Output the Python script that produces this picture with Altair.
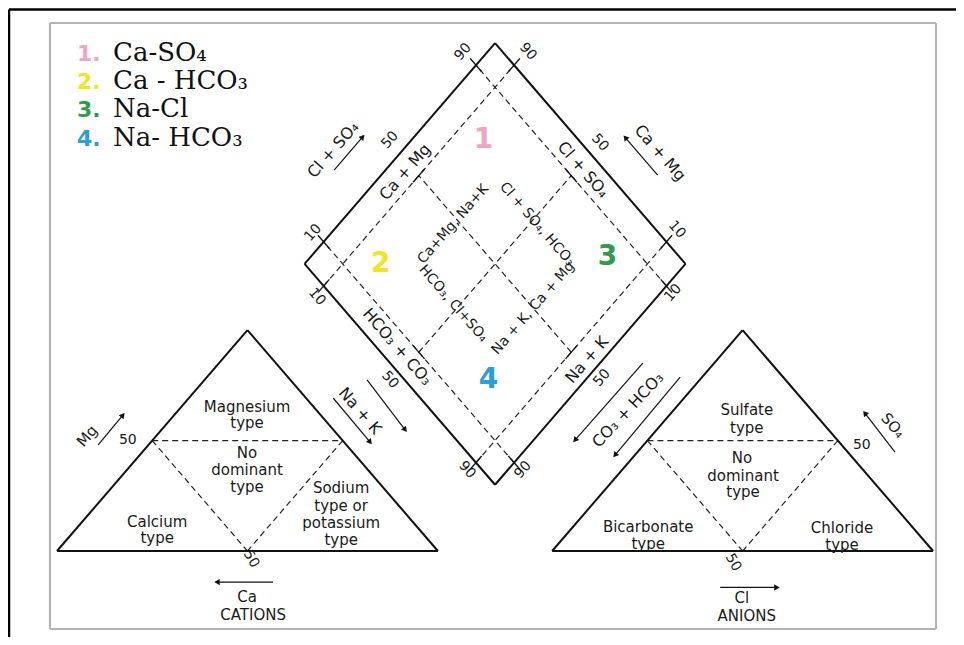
import altair as alt
import numpy as np
import pandas as pd

# ---------------- geometry of the Piper diagram (model units: triangle side = 100) ----
SQ3 = np.sqrt(3.0)
H = 50 * SQ3
GAP = 30.0
# page-pixel calibration used only for the scale domains and the frame
SX, X0 = 3.809, 57.0
SY, Y0 = 2.55, 551.0
W, HT = 948, 629
x_dom = [(8 - X0) / SX, (8 + W - X0) / SX]
y_dom = [(Y0 - (8 + HT)) / SY, (Y0 - 8) / SY]


def px(x):
    return (x - X0) / SX


def py(y):
    return (Y0 - y) / SY


DB = (115.0, GAP / 2 * SQ3)  # bottom vertex of the diamond


def D(u, v):
    return (DB[0] + 50 * u - 50 * v, DB[1] + H * u + H * v)


LT = [(0.0, 0.0), (100.0, 0.0), (50.0, H)]
RT = [(130.0, 0.0), (230.0, 0.0), (180.0, H)]

# ---------------- legend -----------------
legend_nums = ["1.", "2.", "3.", "4."]
legend_names = ["Ca-SO₄", "Ca - HCO₃", "Na-Cl", "Na- HCO₃"]
legend_colors = ["#eea6c1", "#f3e423", "#2f9b4e", "#2b9ed6"]
legend_baseline_px = [61, 89.3, 117.3, 145.7]

# ---------------- field numbers in the diamond (u, v) ------------
field_nums = ["1", "2", "3", "4"]
field_u = [0.75, 0.20, 0.81, 0.22]
field_v = [0.81, 0.80, 0.22, 0.255]

# ---------------- diamond labels (u, v, angle, size) -------------
dl_text = ["Cl + SO₄", "50", "Ca + Mg", "90", "90", "10", "10", "10", "10", "90", "90",
           "Cl + SO₄", "50", "Ca + Mg", "HCO₃ + CO₃", "50", "Na + K", "50",
           "Ca+Mg, Na+K", "Cl + SO₄, HCO₃", "HCO₃, Cl+SO₄", "Na + K, Ca + Mg"]
dl_u = [0.333, 0.505, 0.472, 0.896, 1.067, 0.093, -0.042, 1.055, 0.902, -0.040, 0.107,
        0.944, 1.050, 1.184, 0.055, -0.038, 0.524, 0.523,
        0.48, 0.70, 0.30, 0.50]
dl_v = [1.183, 1.056, 0.944, 1.064, 0.894, 1.048, 0.893, 0.100, -0.033, 0.107, -0.040,
        0.482, 0.499, 0.318, 0.569, 0.513, 0.041, -0.039,
        0.70, 0.48, 0.52, 0.30]
dl_angle = [311, 311, 311, 311, 49, 311, 49, 49, 311, 49, 311,
            49, 49, 49, 49, 49, 311, 311,
            311, 49, 49, 311]
dl_size = [16, 14, 16, 14, 14, 14, 14, 14, 14, 14, 14,
           16, 14, 16, 16, 14, 16, 14,
           14, 14, 14, 14]

# ---------------- triangle labels (model x, y, angle, size) -------------
tl_text = ["Magnesium", "type", "No", "dominant", "type", "Sodium", "type  or", "potassium", "type",
           "Calcium", "type", "50", "Mg", "50", "Ca", "CATIONS", "Na + K",
           "Sulfate", "type", "No", "dominant", "type", "Bicarbonate", "type", "Chloride", "type",
           "50", "SO₄", "50", "Cl", "ANIONS", "CO₃ + HCO₃"]
tl_x = [49.9, 49.9, 49.9, 49.9, 49.9, 74.6, 74.6, 74.6, 74.6,
        26.3, 26.3, 18.6, 7.9, 51.0, 49.9, 51.5, 79.5,
        181.1, 181.1, 179.8, 180.1, 180.1, 155.2, 155.2, 206.1, 206.1,
        211.3, 219.5, 177.5, 179.8, 181.1, 149.9]
tl_y = [56.5, 50.2, 38.4, 31.8, 25.1, 24.6, 17.6, 11.0, 4.3,
        11.4, 5.1, 43.5, 45.1, -3.1, -18.0, -25.1, 54.9,
        55.1, 48.4, 36.6, 29.6, 23.3, 9.6, 2.9, 9.2, 2.5,
        41.4, 49.2, -4.5, -18.4, -25.5, 55.3]
tl_angle = [0, 0, 0, 0, 0, 0, 0, 0, 0,
            0, 0, 0, 311, 60, 0, 0, 49,
            0, 0, 0, 0, 0, 0, 0, 0, 0,
            0, 49, 60, 0, 0, 313]
tl_size = [15, 15, 15, 15, 15, 15, 15, 15, 15,
           15, 15, 14, 15, 14, 15, 15, 16,
           15, 15, 15, 15, 15, 15, 15, 15, 15,
           14, 15, 14, 15, 15, 16]

# ---------------- arrows (model start -> end, head at end) -------------
arr_x = [D(0.29, 1.135)[0], D(1.128, 0.274)[0], 10.8, 72.5, 81.4, 56.7, 153.8, 163.6, 220.0, 174.1]
arr_y = [D(0.29, 1.135)[1], D(1.128, 0.274)[1], 41.6, 60.0, 67.1, -12.2, 73.7, 68.2, 38.8, -14.3]
arr_x2 = [D(0.44, 1.135)[0], D(1.128, 0.444)[0], 17.3, 82.2, 91.4, 42.0, 136.0, 146.5, 212.1, 189.0]
arr_y2 = [D(0.44, 1.135)[1], D(1.128, 0.444)[1], 53.3, 42.7, 47.5, -12.2, 43.5, 37.6, 54.1, -14.3]

# ---------------- build segments ---------------------------------------
solid = []
dashed = []


def seg(lst, a, b, w=2.0):
    lst.append({"x": a[0], "y": a[1], "x2": b[0], "y2": b[1], "w": w})


for tri in (LT, RT):
    for i in range(3):
        seg(solid, tri[i], tri[(i + 1) % 3])
    ml = ((tri[0][0] + tri[2][0]) / 2, (tri[0][1] + tri[2][1]) / 2)
    mr = ((tri[1][0] + tri[2][0]) / 2, (tri[1][1] + tri[2][1]) / 2)
    mb = ((tri[0][0] + tri[1][0]) / 2, 0.0)
    seg(dashed, ml, mr)
    seg(dashed, ml, mb)
    seg(dashed, mr, mb)

corners = [D(0, 0), D(1, 0), D(1, 1), D(0, 1)]
for i in range(4):
    seg(solid, corners[i], corners[(i + 1) % 4])
for f in (0.1, 0.9):
    seg(dashed, D(f, 0), D(f, 1))
    seg(dashed, D(0, f), D(1, f))
    # small solid ticks at the outer ends
    seg(solid, D(f, -0.03), D(f, 0.03), 1.3)
    seg(solid, D(f, 0.97), D(f, 1.03), 1.3)
    seg(solid, D(-0.03, f), D(0.03, f), 1.3)
    seg(solid, D(0.97, f), D(1.03, f), 1.3)
seg(dashed, D(0.5, 0.1), D(0.5, 0.9))
seg(dashed, D(0.1, 0.5), D(0.9, 0.5))
# little end marks of the central cross
seg(solid, D(0.47, 0.9), D(0.53, 0.9), 1.3)
seg(solid, D(0.9, 0.47), D(0.9, 0.53), 1.3)
seg(solid, D(0.47, 0.1), D(0.53, 0.1), 1.3)
seg(solid, D(0.1, 0.47), D(0.1, 0.53), 1.3)

solid_df = pd.DataFrame(solid)
dashed_df = pd.DataFrame(dashed)

frame_gray = pd.DataFrame([
    {"x": px(50), "y": py(23), "x2": px(936), "y2": py(23)},
    {"x": px(50), "y": py(629), "x2": px(936), "y2": py(629)},
    {"x": px(50), "y": py(23), "x2": px(50), "y2": py(629)},
    {"x": px(936), "y": py(23), "x2": px(936), "y2": py(629)},
])
frame_black = pd.DataFrame([
    {"x": px(9), "y": py(9.5), "x2": px(956), "y2": py(9.5)},
    {"x": px(9), "y": py(9.5), "x2": px(9), "y2": py(637)},
])

arrows = pd.DataFrame({"x": arr_x, "y": arr_y, "x2": arr_x2, "y2": arr_y2})
heads = arrows.copy()
sdx = (heads.x2 - heads.x) * SX
sdy = -(heads.y2 - heads.y) * SY
heads["angle"] = (np.degrees(np.arctan2(sdx, -sdy)) + 360) % 360

# text tables
dpos = [D(u, v) for u, v in zip(dl_u, dl_v)]
diag_txt = pd.DataFrame({
    "text": dl_text + tl_text,
    "x": [p[0] for p in dpos] + tl_x,
    "y": [p[1] for p in dpos] + tl_y,
    "angle": dl_angle + tl_angle,
    "size": dl_size + tl_size,
})

fpos = [D(u, v) for u, v in zip(field_u, field_v)]
field_df = pd.DataFrame({"text": field_nums, "x": [p[0] for p in fpos], "y": [p[1] for p in fpos],
                         "color": legend_colors})

leg_df = pd.DataFrame({
    "num": legend_nums, "name": legend_names, "color": legend_colors,
    "xn": [px(77)] * 4, "xt": [px(113)] * 4, "y": [py(b) for b in legend_baseline_px],
})

xs = alt.Scale(domain=x_dom, nice=False, zero=False)
ys = alt.Scale(domain=y_dom, nice=False, zero=False)


def X(f):
    return alt.X(f, type="quantitative", scale=xs, axis=None)


def Y(f):
    return alt.Y(f, type="quantitative", scale=ys, axis=None)


def rules(df, color, width, dash=None, wfield=False):
    kw = dict(color=color)
    if dash:
        kw["strokeDash"] = dash
    enc = dict(x=X("x"), y=Y("y"), x2="x2", y2="y2")
    if wfield:
        enc["strokeWidth"] = alt.StrokeWidth("w:Q", scale=None)
    else:
        kw["strokeWidth"] = width
    return alt.Chart(df).mark_rule(**kw).encode(**enc)


layers = [
    rules(frame_gray, "#b4b4b4", 2.2),
    rules(frame_black, "#000000", 2.5),
    rules(dashed_df, "#222222", 1.2, dash=[6, 4]),
    rules(solid_df, "#111111", 2.0, wfield=True),
    rules(arrows, "#111111", 1.2),
    alt.Chart(heads).mark_point(shape="triangle-up", filled=True, color="#111111", size=40, opacity=1).encode(
        x=X("x2"), y=Y("y2"), angle=alt.Angle("angle:Q", scale=None)),
    alt.Chart(diag_txt).mark_text(font="DejaVu Sans", color="#1a1a1a", align="center", baseline="middle").encode(
        x=X("x"), y=Y("y"), text="text:N",
        angle=alt.Angle("angle:Q", scale=None), size=alt.Size("size:Q", scale=None)),
    alt.Chart(field_df).mark_text(font="DejaVu Sans", fontWeight="bold", fontSize=28, align="center",
                                  baseline="middle").encode(
        x=X("x"), y=Y("y"), text="text:N", color=alt.Color("color:N", scale=None)),
    alt.Chart(leg_df).mark_text(font="DejaVu Sans", fontWeight="bold", fontSize=22, align="left",
                                baseline="alphabetic").encode(
        x=X("xn"), y=Y("y"), text="num:N", color=alt.Color("color:N", scale=None)),
    alt.Chart(leg_df).mark_text(font="DejaVu Serif", fontSize=26, color="#111111", align="left",
                                baseline="alphabetic").encode(
        x=X("xt"), y=Y("y"), text="name:N"),
]

chart = alt.layer(*layers).properties(
    width=W, height=HT, padding=0, autosize=alt.AutoSizeParams(type="none"),
    background="white",
).configure_view(stroke=None)

chart.save("out.html", embed_options={"renderer": "svg", "actions": False})
